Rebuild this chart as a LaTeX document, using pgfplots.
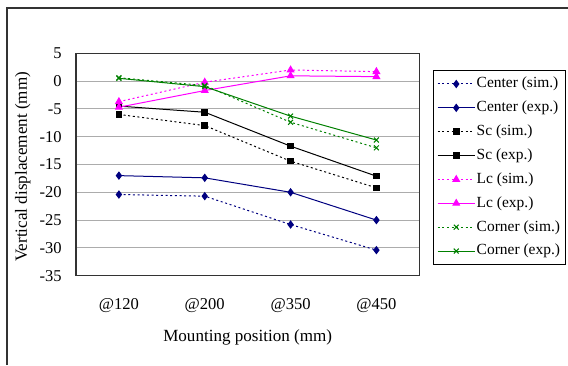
\documentclass[border=0pt]{standalone}
\usepackage{pgfplots}
\pgfplotsset{compat=1.18}
\usepackage{fontspec}
\setmainfont{Liberation Serif}
\definecolor{cnavy}{RGB}{0,0,128}
\definecolor{cmag}{RGB}{255,0,255}
\definecolor{cgreen}{RGB}{0,128,0}
\begin{document}
\begin{tikzpicture}
\useasboundingbox (0,0) rectangle (426pt,273.75pt);
\draw[line width=1.2pt,black!80] (5.25pt,0) -- (5.25pt,267.75pt) -- (426pt,267.75pt);
\begin{axis}[
  at={(57pt,66.98pt)}, anchor=south west,
  scale only axis, width=257.5pt, height=166.8pt,
  xmin=-0.5, xmax=3.5, ymin=-35, ymax=5,
  xtick={0,1,2,3}, xticklabels={@120,@200,@350,@450},
  ytick={-35,-30,...,5},
  major tick length=0pt,
  ymajorgrids, grid style={gray!65, line width=0.8pt},
  axis line style={black!80, line width=0.9pt},
  /pgf/number format/assume math mode=true,
  tick label style={font=\fontsize{12.4}{14}\selectfont},
  xticklabel style={anchor=center, yshift=-22.5pt},
  yticklabel style={anchor=east, inner sep=0pt, xshift=-10.5pt},
  xlabel={Mounting position (mm)},
  ylabel={Vertical displacement (mm)},
  label style={font=\fontsize{12.8}{14}\selectfont},
  xlabel style={at={(axis description cs:0.5,-0.279)}, anchor=center},
  ylabel style={at={(axis description cs:-0.155,0.49)}, anchor=center},
  legend style={at={(axis description cs:1.0385,0.925)}, anchor=north west,
    font=\fontsize{11.6}{13}\selectfont, draw=black, line width=0.8pt,
    row sep=5.7pt, inner xsep=3pt, inner ysep=4pt,
    nodes={inner sep=1pt, text height=8pt, text depth=2.2pt}},
  legend cell align=left,
  legend image code/.code={\draw[#1, mark repeat=2, mark phase=2] plot coordinates {(0pt,0pt)(14pt,0pt)(28pt,0pt)};},
  every axis plot/.append style={line width=0.75pt},
  clip=false,
]
\addplot[cnavy, dash pattern=on 1.5pt off 2pt, mark=diamond*, mark size=2.6pt, mark options={solid}]
  coordinates {(0,-20.4)(1,-20.7)(2,-25.8)(3,-30.4)};
\addlegendentry{Center (sim.)}
\addplot[cnavy, mark=diamond*, mark size=2.6pt]
  coordinates {(0,-17.0)(1,-17.4)(2,-20.0)(3,-25.0)};
\addlegendentry{Center (exp.)}
\addplot[black, dash pattern=on 1.5pt off 2pt, mark=square*, mark size=2.1pt, mark options={solid}]
  coordinates {(0,-6.0)(1,-8.0)(2,-14.4)(3,-19.2)};
\addlegendentry{Sc (sim.)}
\addplot[black, mark=square*, mark size=2.1pt]
  coordinates {(0,-4.5)(1,-5.6)(2,-11.7)(3,-17.1)};
\addlegendentry{Sc (exp.)}
\addplot[cmag, dash pattern=on 1.5pt off 2pt, mark=triangle*, mark size=2.8pt, mark options={solid}]
  coordinates {(0,-3.7)(1,-0.2)(2,2.0)(3,1.7)};
\addlegendentry{Lc (sim.)}
\addplot[cmag, mark=triangle*, mark size=2.8pt]
  coordinates {(0,-4.7)(1,-1.7)(2,0.95)(3,0.8)};
\addlegendentry{Lc (exp.)}
\addplot[cgreen, dash pattern=on 1.5pt off 2pt, mark=x, mark size=2.6pt, mark options={solid}]
  coordinates {(0,0.6)(1,-0.8)(2,-7.4)(3,-12.0)};
\addlegendentry{Corner (sim.)}
\addplot[cgreen, mark=x, mark size=2.6pt]
  coordinates {(0,0.5)(1,-1.0)(2,-6.3)(3,-10.6)};
\addlegendentry{Corner (exp.)}
\end{axis}
\end{tikzpicture}
\end{document}
